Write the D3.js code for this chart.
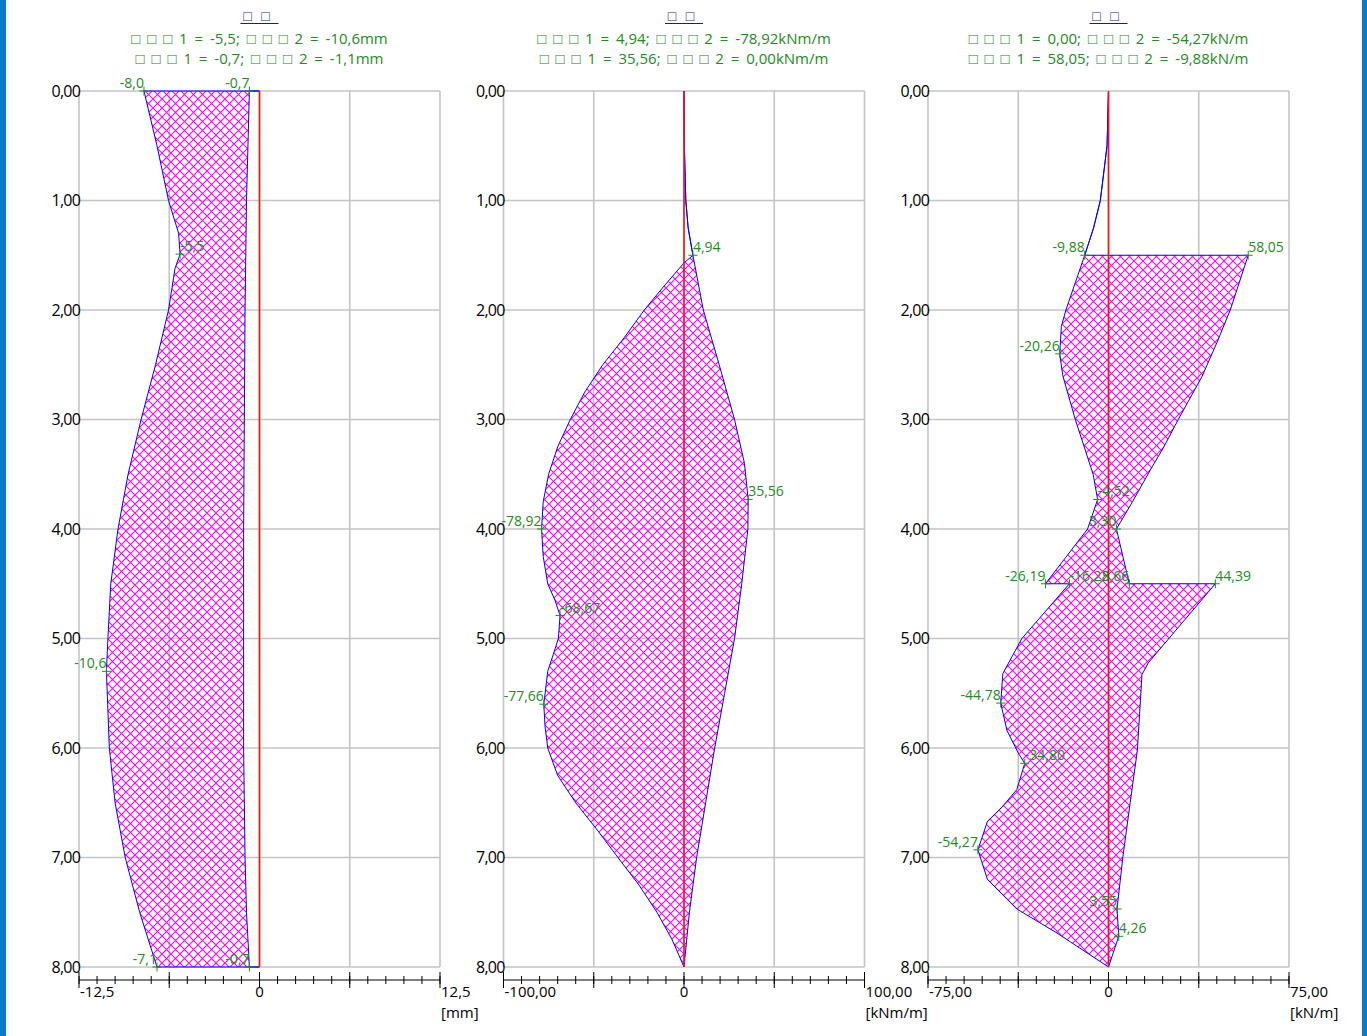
<!DOCTYPE html>
<html>
<head>
<meta charset="utf-8">
<script src="https://cdn.jsdelivr.net/npm/d3@7"></script>
<style>
    body { margin: 0; background: #fff; }
    svg { display: block; font-family: "Open Sans", "Noto Sans", sans-serif; }
</style>
</head>
<body>
<svg id="chart" width="1367" height="1036"></svg>
<script>
// depth grid (m)
const depthTicks = [0, 1, 2, 3, 4, 5, 6, 7, 8];

// panel headings (source glyphs were missing, shown as boxes)
const titles = ['□ □', '□ □', '□ □'];
const subtitles = [
    ['□ □ □ 1 = -5,5; □ □ □ 2 = -10,6mm', '□ □ □ 1 = -0,7; □ □ □ 2 = -1,1mm'],
    ['□ □ □ 1 = 4,94; □ □ □ 2 = -78,92kNm/m', '□ □ □ 1 = 35,56; □ □ □ 2 = 0,00kNm/m'],
    ['□ □ □ 1 = 0,00; □ □ □ 2 = -54,27kN/m', '□ □ □ 1 = 58,05; □ □ □ 2 = -9,88kN/m']
];
const xDomains = [[-12.5, 12.5], [-100, 100], [-75, 75]];
const xEndLabels = [['-12,5', '0', '12,5'], ['-100,00', '0', '100,00'], ['-75,00', '0', '75,00']];
const units = ['[mm]', '[kNm/m]', '[kN/m]'];

// displacement [depth, value]
const dispOuter = [[0, -8.0], [0.5, -7.1], [1.0, -6.3], [1.3, -5.6], [1.49, -5.5], [1.62, -5.85], [2.0, -6.3],
    [2.5, -7.2], [3.0, -8.2], [3.5, -9.1], [4.0, -9.8], [4.5, -10.3], [5.0, -10.5], [5.3, -10.6],
    [6.0, -10.4], [6.5, -10.0], [7.0, -9.3], [7.5, -8.3], [8.0, -7.1]];
const dispInner = [[0, -0.7], [1.0, -0.9], [1.5, -0.95], [2.0, -1.0], [3.0, -1.05], [4.0, -1.1], [5.0, -1.1],
    [6.0, -1.1], [7.0, -1.0], [7.5, -0.9], [8.0, -0.7]];
const dispMarks = [[0, -8.0], [0, -0.7], [1.49, -5.5], [5.3, -10.6], [8, -7.1], [8, -0.7]];

// bending moment [depth, value]
const momentRight = [[0, 0], [0.5, 0.2], [1.0, 1.0], [1.25, 2.3], [1.5, 4.94], [2.0, 10.7], [2.5, 19.5],
    [3.0, 28], [3.4, 33.5], [3.73, 35.56], [4.0, 35.4], [4.5, 32], [5.0, 28], [5.5, 22.5], [6.0, 17],
    [6.5, 12], [7.0, 7], [7.5, 3], [8.0, 0]];
const momentLeft = [[0, 0], [0.5, 0.2], [1.0, 1.0], [1.25, 2.3], [1.5, 4.94], [1.57, 0], [1.8, -12],
    [2.0, -22], [2.25, -33], [2.5, -45], [2.75, -55], [3.0, -63], [3.25, -70], [3.5, -75], [3.75, -78],
    [4.0, -78.92], [4.25, -78], [4.5, -75.5], [4.65, -71.5], [4.79, -68.67], [5.0, -69.6], [5.15, -72.5],
    [5.3, -75.5], [5.6, -77.66], [5.8, -77], [6.0, -75.5], [6.25, -70], [6.5, -60], [6.75, -48],
    [7.0, -36.6], [7.25, -25], [7.5, -15], [7.75, -6.6], [8.0, 0]];
const momentMarks = [[1.5, 4.94], [3.73, 35.56], [4.0, -78.92], [4.79, -68.67], [5.6, -77.66]];

// shear force [depth, value]
const shearRight = [[0, 0], [0.5, -0.6], [1.0, -3.4], [1.25, -6.2], [1.5, -9.88], [1.5, 58.05], [2.0, 50.6],
    [2.3, 45], [2.61, 38.8], [3.0, 29], [3.25, 23], [3.46, 17.4], [3.75, 10], [4.0, 3.30], [4.5, 8.66],
    [4.5, 44.39], [5.22, 16.6], [5.33, 13.9], [5.48, 13.5], [6.02, 12], [6.5, 9], [6.99, 6], [7.47, 3.55],
    [7.72, 4.26], [8.0, 0]];
const shearLeft = [[0, 0], [0.5, -0.6], [1.0, -3.4], [1.25, -6.2], [1.5, -9.88], [2.0, -17.7], [2.15, -19.6],
    [2.4, -20.26], [2.6, -19.0], [3.0, -13.8], [3.5, -6.4], [3.73, -4.52], [4.0, -8.7], [4.5, -26.19],
    [4.5, -16.23], [5.0, -36], [5.32, -43.9], [5.59, -44.78], [5.84, -42.2], [6.05, -37.4], [6.14, -34.80],
    [6.38, -38.1], [6.54, -44.3], [6.67, -50.3], [6.93, -54.27], [7.2, -50.3], [7.47, -38.1], [7.69, -21.4],
    [7.81, -13.1], [8.0, 0]];
const shearMarks = [[1.5, -9.88], [1.5, 58.05], [2.4, -20.26], [3.73, -4.52], [4.0, 3.30], [4.5, -26.19],
    [4.5, -16.23], [4.5, 8.66], [4.5, 44.39], [5.59, -44.78], [6.14, -34.80], [6.93, -54.27],
    [7.47, 3.55], [7.72, 4.26]];

// layout
const panelLeft = [79, 503.5, 928];
const panelWidth = 361;
const plotTop = 91, plotBottom = 967, axisY = 980;
const labelSide = [
    ['end', 'end', 'start', 'end', 'end', 'end'],
    ['start', 'start', 'end', 'start', 'end'],
    ['end', 'start', 'end', 'start', 'end', 'end', 'start', 'end', 'start', 'end', 'start', 'end', 'end', 'start']
];
const panels = [
    { a: dispOuter, b: dispInner, marks: dispMarks, digits: 1 },
    { a: momentRight, b: momentLeft, marks: momentMarks, digits: 2 },
    { a: shearRight, b: shearLeft, marks: shearMarks, digits: 2 }
];

const green = '#228b22';
const svg = d3.select('#chart');

// side frame
svg.append('rect').attr('x', 0).attr('y', 0).attr('width', 6).attr('height', 1036).attr('fill', '#0a7bc6');
svg.append('rect').attr('x', 1362).attr('y', 0).attr('width', 5).attr('height', 1036).attr('fill', '#0a7bc6');

// crosshatch
const pat = svg.append('defs').append('pattern')
    .attr('id', 'hatch')
    .attr('patternUnits', 'userSpaceOnUse')
    .attr('width', 9).attr('height', 9);
pat.append('path')
    .attr('d', 'M-1,-1L10,10M10,-1L-1,10')
    .attr('stroke', '#ff00ff')
    .attr('stroke-width', 1.1)
    .attr('fill', 'none');

const y = d3.scaleLinear().domain([0, 8]).range([plotTop, plotBottom]);
const fmtComma = (v, n) => v.toFixed(n).replace('.', ',');

panels.forEach((p, i) => {
    const left = panelLeft[i];
    const dom = xDomains[i];
    const x = d3.scaleLinear().domain(dom).range([left, left + panelWidth]);
    const cx = x(0);
    const g = svg.append('g');

    // headings
    g.append('text')
        .attr('x', cx - 3).attr('y', 21)
        .attr('text-anchor', 'middle')
        .attr('font-size', 14)
        .attr('word-spacing', 6)
        .attr('fill', '#1a1a8a')
        .text(titles[i]);
    g.append('line')
        .attr('x1', cx - 19).attr('x2', cx + 19)
        .attr('y1', 23.5).attr('y2', 23.5)
        .attr('stroke', '#1a1a8a').attr('stroke-width', 1);
    subtitles[i].forEach((s, k) => {
        g.append('text')
            .attr('x', cx).attr('y', 44 + k * 20)
            .attr('text-anchor', 'middle')
            .attr('font-size', 15)
            .attr('word-spacing', 3)
            .attr('fill', green)
            .text(s);
    });

    // grid
    const majors = d3.range(5).map(k => dom[0] + k * (dom[1] - dom[0]) / 4);
    const minors = d3.range(21).map(k => dom[0] + k * (dom[1] - dom[0]) / 20);
    g.append('g').selectAll('line')
        .data(majors)
        .join('line')
        .attr('x1', d => x(d)).attr('x2', d => x(d))
        .attr('y1', plotTop).attr('y2', plotBottom)
        .attr('stroke', '#c4c4c4').attr('stroke-width', 1.6);
    g.append('g').selectAll('line')
        .data(depthTicks)
        .join('line')
        .attr('x1', left).attr('x2', left + panelWidth)
        .attr('y1', d => y(d)).attr('y2', d => y(d))
        .attr('stroke', '#c4c4c4').attr('stroke-width', 1.6);

    // depth labels
    g.append('g').selectAll('text')
        .data(depthTicks)
        .join('text')
        .attr('x', left + 1).attr('y', d => y(d))
        .attr('dy', '0.36em')
        .attr('text-anchor', 'end')
        .attr('font-size', 16)
        .attr('letter-spacing', -0.8)
        .attr('fill', '#000')
        .text(d => fmtComma(d, 2));

    // hatched band between the two curves
    const line = d3.line().x(d => x(d[1])).y(d => y(d[0]));
    g.append('path')
        .attr('d', line(p.a.concat(p.b.slice().reverse())) + 'Z')
        .attr('fill', 'url(#hatch)')
        .attr('stroke', 'none');

    // curve outlines, closed back to the wall line
    [p.a, p.b].forEach(c => {
        const pts = [[c[0][0], 0]].concat(c, [[c[c.length - 1][0], 0]]);
        g.append('path')
            .attr('d', line(pts))
            .attr('fill', 'none')
            .attr('stroke', '#0000ff')
            .attr('stroke-width', 1);
    });

    // wall line
    g.append('line')
        .attr('x1', cx).attr('x2', cx)
        .attr('y1', plotTop).attr('y2', plotBottom)
        .attr('stroke', '#ff1010').attr('stroke-width', 1.6);

    // extreme markers
    const mk = g.append('g').selectAll('g')
        .data(p.marks)
        .join('g')
        .attr('transform', d => 'translate(' + x(d[1]) + ' ' + y(d[0]) + ')');
    mk.append('path')
        .attr('d', 'M-4.5,0H4.5M0,-4.5V4.5')
        .attr('stroke', green).attr('stroke-width', 1);
    mk.append('text')
        .attr('x', 0).attr('y', -3)
        .attr('text-anchor', (d, k) => labelSide[i][k])
        .attr('font-size', 14)
        .attr('fill', green)
        .text(d => fmtComma(d[1], p.digits));

    // bottom axis
    const ax = g.append('g');
    ax.append('line')
        .attr('x1', left).attr('x2', left + panelWidth)
        .attr('y1', axisY).attr('y2', axisY)
        .attr('stroke', '#000').attr('stroke-width', 1);
    ax.selectAll('.minor')
        .data(minors)
        .join('line')
        .attr('class', 'minor')
        .attr('x1', d => x(d)).attr('x2', d => x(d))
        .attr('y1', axisY - 4).attr('y2', axisY + 4)
        .attr('stroke', '#000').attr('stroke-width', 1);
    ax.selectAll('.major')
        .data(majors)
        .join('line')
        .attr('class', 'major')
        .attr('x1', d => x(d)).attr('x2', d => x(d))
        .attr('y1', axisY - 8).attr('y2', axisY + 8)
        .attr('stroke', '#000').attr('stroke-width', 1);
    const ends = xEndLabels[i];
    [[dom[0], ends[0], 'start', 1], [0, ends[1], 'middle', 0], [dom[1], ends[2], 'start', 1]].forEach(t => {
        ax.append('text')
            .attr('x', x(t[0]) + t[3]).attr('y', 997)
            .attr('text-anchor', t[2])
            .attr('font-size', 15)
            .attr('fill', '#000')
            .text(t[1]);
    });
    ax.append('text')
        .attr('x', left + panelWidth + 1).attr('y', 1018)
        .attr('font-size', 15)
        .attr('fill', '#000')
        .text(units[i]);
});
</script>
</body>
</html>
